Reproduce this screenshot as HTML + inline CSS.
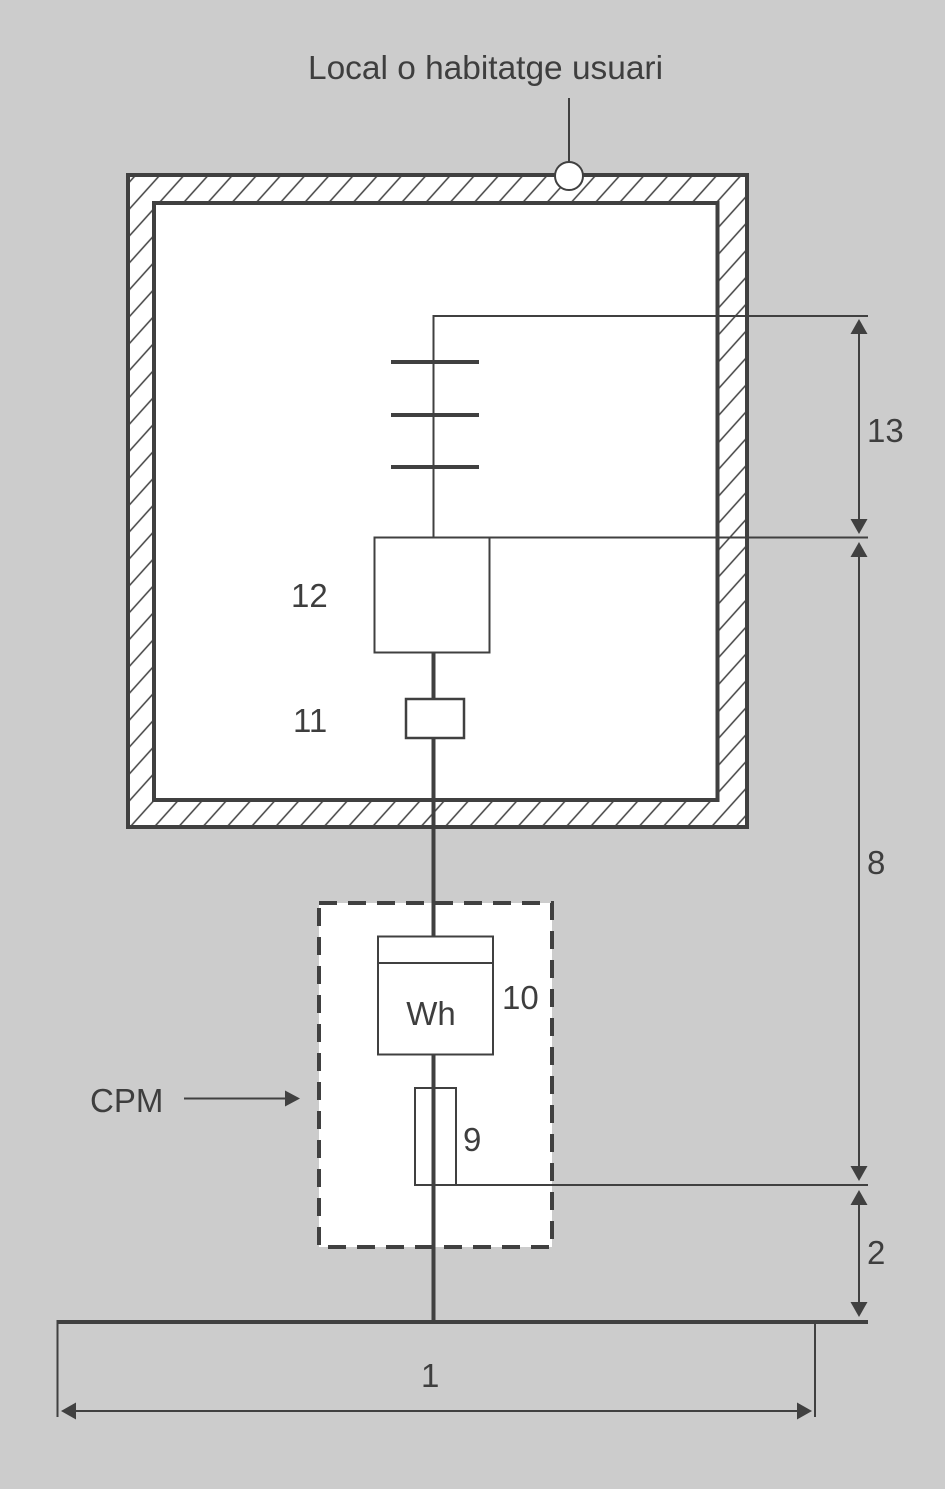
<!DOCTYPE html>
<html>
<head>
<meta charset="utf-8">
<style>
  html,body{margin:0;padding:0;background:#cccccc;}
  svg{display:block;}
  text{font-family:"Liberation Sans",Arial,sans-serif;fill:#3e3e3e;font-size:33px;}
</style>
</head>
<body>
<svg width="945" height="1489" viewBox="0 0 945 1489" xmlns="http://www.w3.org/2000/svg">
  <defs>
    <pattern id="hatch" patternUnits="userSpaceOnUse" width="18" height="18" patternTransform="rotate(42)">
      <line x1="2" y1="0" x2="2" y2="18" stroke="#404040" stroke-width="1.5"/>
    </pattern>
  </defs>
  <rect x="0" y="0" width="945" height="1489" fill="#cccccc"/>

  <!-- Title -->
  <text x="308" y="79" textLength="355" lengthAdjust="spacingAndGlyphs">Local o habitatge usuari</text>
  <line x1="569" y1="98" x2="569" y2="163" stroke="#404040" stroke-width="2"/>

  <!-- Wall -->
  <rect x="128" y="175" width="619" height="652" fill="#ffffff"/>
  <rect x="128" y="175" width="619" height="652" fill="url(#hatch)"/>
  <rect x="128" y="175" width="619" height="652" fill="none" stroke="#404040" stroke-width="4"/>
  <rect x="154" y="203" width="563.5" height="597" fill="#ffffff" stroke="#404040" stroke-width="4"/>

  <circle cx="569" cy="176" r="14" fill="#ffffff" stroke="#404040" stroke-width="2"/>

  <!-- 13 element -->
  <line x1="433.5" y1="316" x2="433.5" y2="538" stroke="#404040" stroke-width="2"/>
  <line x1="432.5" y1="316" x2="868" y2="316" stroke="#404040" stroke-width="2"/>
  <line x1="391" y1="362" x2="479" y2="362" stroke="#404040" stroke-width="4"/>
  <line x1="391" y1="415" x2="479" y2="415" stroke="#404040" stroke-width="4"/>
  <line x1="391" y1="467" x2="479" y2="467" stroke="#404040" stroke-width="4"/>

  <!-- Box 12 -->
  <rect x="374.5" y="537.5" width="115" height="115" fill="#ffffff" stroke="#404040" stroke-width="2"/>
  <line x1="489.5" y1="537.5" x2="868" y2="537.5" stroke="#404040" stroke-width="2"/>

  <!-- main thick lines -->
  <line x1="433.5" y1="653" x2="433.5" y2="699" stroke="#404040" stroke-width="4"/>

  <!-- Box 11 -->
  <rect x="406" y="699" width="58" height="39" fill="#ffffff" stroke="#404040" stroke-width="2.5"/>

  <line x1="433.5" y1="738" x2="433.5" y2="904" stroke="#404040" stroke-width="4"/>

  <!-- CPM dashed box -->
  <rect x="319" y="903" width="233" height="344" fill="#ffffff" stroke="#404040" stroke-width="4" stroke-dasharray="18 11"/>

  <line x1="433.5" y1="900" x2="433.5" y2="937" stroke="#404040" stroke-width="4"/>

  <!-- Wh meter -->
  <rect x="378" y="936.5" width="115" height="118" fill="#ffffff" stroke="#404040" stroke-width="2"/>
  <line x1="378" y1="963" x2="493" y2="963" stroke="#404040" stroke-width="2"/>
  <text x="431" y="1025" text-anchor="middle">Wh</text>

  <!-- Fuse 9 -->
  <rect x="415" y="1088" width="41" height="97" fill="#ffffff" stroke="#404040" stroke-width="2"/>
  <line x1="456" y1="1185" x2="868" y2="1185" stroke="#404040" stroke-width="2"/>

  <line x1="433.5" y1="1055" x2="433.5" y2="1322" stroke="#404040" stroke-width="4"/>

  <!-- Ground line -->
  <line x1="57" y1="1322" x2="868" y2="1322" stroke="#404040" stroke-width="4"/>
  <line x1="57.5" y1="1320" x2="57.5" y2="1417" stroke="#404040" stroke-width="2"/>
  <line x1="815" y1="1322" x2="815" y2="1417" stroke="#404040" stroke-width="2"/>

  <!-- Dimension 1 -->
  <line x1="70" y1="1411" x2="803" y2="1411" stroke="#404040" stroke-width="2"/>
  <polygon points="61,1411 76,1402.5 76,1419.5" fill="#404040"/>
  <polygon points="812,1411 797,1402.5 797,1419.5" fill="#404040"/>

  <!-- Dimension 13 -->
  <line x1="859" y1="328" x2="859" y2="525" stroke="#404040" stroke-width="2"/>
  <polygon points="859,319 850.5,334 867.5,334" fill="#404040"/>
  <polygon points="859,534 850.5,519 867.5,519" fill="#404040"/>

  <!-- Dimension 8 -->
  <line x1="859" y1="551" x2="859" y2="1172" stroke="#404040" stroke-width="2"/>
  <polygon points="859,542 850.5,557 867.5,557" fill="#404040"/>
  <polygon points="859,1181 850.5,1166 867.5,1166" fill="#404040"/>

  <!-- Dimension 2 -->
  <line x1="859" y1="1199" x2="859" y2="1308" stroke="#404040" stroke-width="2"/>
  <polygon points="859,1190 850.5,1205 867.5,1205" fill="#404040"/>
  <polygon points="859,1317 850.5,1302 867.5,1302" fill="#404040"/>

  <!-- CPM arrow -->
  <line x1="184" y1="1098.5" x2="290" y2="1098.5" stroke="#404040" stroke-width="2"/>
  <polygon points="300,1098.5 285,1090.5 285,1106.5" fill="#404040"/>

  <!-- Labels -->
  <text x="867" y="442">13</text>
  <text x="867" y="874">8</text>
  <text x="867" y="1264">2</text>
  <text x="291" y="607">12</text>
  <text x="293" y="732">11</text>
  <text x="502" y="1009">10</text>
  <text x="463" y="1151">9</text>
  <text x="421" y="1387">1</text>
  <text x="90" y="1112">CPM</text>
</svg>
</body>
</html>
